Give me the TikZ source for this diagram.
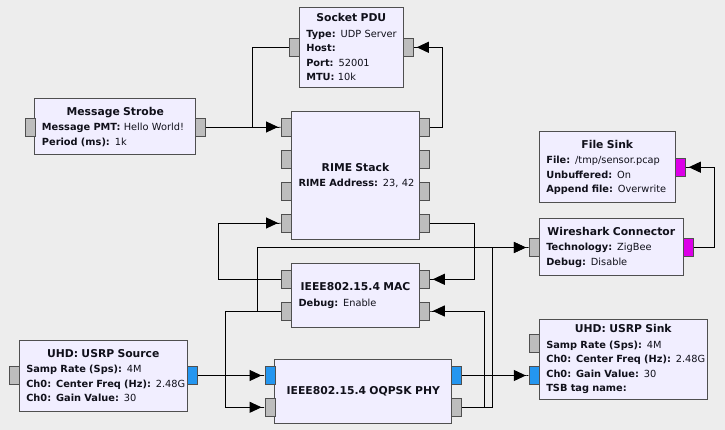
\documentclass[tikz,border=0pt]{standalone}
\usepackage{fontspec}
\setmainfont{DejaVu Sans}
\usetikzlibrary{arrows.meta}
\definecolor{canvas}{HTML}{EDEDED}
\definecolor{blockbg}{HTML}{F1EEFF}
\definecolor{edge}{HTML}{4F4F4F}
\definecolor{portgrey}{HTML}{BDBDBD}
\definecolor{cplxblue}{HTML}{2496F0}
\definecolor{bytemag}{HTML}{DC00E8}
\definecolor{ink}{HTML}{10101A}
\newcommand{\ttl}[1]{\makebox[\linewidth]{\fontsize{10.8}{14}\selectfont\bfseries #1}}
\newcommand{\prm}[2]{\mbox{\textbf{#1:} #2}}
\tikzset{
  blk/.style ={draw=edge, line width=1pt, fill=blockbg, align=left, inner xsep=7pt, inner ysep=0pt,
               font=\fontsize{9.8}{14.5}\selectfont, text=ink},
  port/.style={draw=edge, line width=.9pt, fill=portgrey, minimum width=10pt, minimum height=18pt, inner sep=0pt},
  cplx/.style={port, fill=cplxblue},
  bytes/.style={port, fill=bytemag},
  ln/.style  ={draw=black, line width=.9pt,
               -{Triangle[length=12pt,width=11pt,sep=0pt]Rectangle[length=3pt,width=.9pt,sep=0pt]}},
  lnn/.style ={draw=black, line width=.9pt},
}
\begin{document}
\begin{tikzpicture}[x=1pt,y=-1pt]
  \fill[canvas] (0,0) rectangle (725,430);
  \useasboundingbox (0,0) rectangle (725,430);

  % blocks
  \node[blk,minimum height=80pt,text width=90pt] (pdu) at (351.3,47.3)
    {\ttl{Socket PDU}\\[1pt] \prm{Type}{UDP Server}\\ \prm{Host}{}\\ \prm{Port}{52001}\\ \prm{MTU}{10k}};
  \node[blk,minimum height=56pt,text width=146.7pt] (strobe) at (115.3,127)
    {\ttl{Message Strobe}\\[1pt] \prm{Message PMT}{Hello World!}\\ \prm{Period (ms)}{1k}};
  \node[blk,minimum height=128pt,text width=114pt] (rime) at (355.5,175.5)
    {\ttl{RIME Stack}\\[1pt] \prm{RIME Address}{23, 42}};
  \node[blk,minimum height=71pt,text width=122pt] (fsink) at (607.3,167.2)
    {\ttl{File Sink}\\[1pt] \prm{File}{/tmp/sensor.pcap}\\ \prm{Unbuffered}{On}\\ \prm{Append file}{Overwrite}};
  \node[blk,minimum height=56pt,text width=130pt] (wshark) at (611.3,247)
    {\ttl{Wireshark Connector}\\[1pt] \prm{Technology}{ZigBee}\\ \prm{Debug}{Disable}};
  \node[blk,minimum height=64pt,text width=114pt] (mac) at (355.5,295.3)
    {\ttl{IEEE802.15.4 MAC}\\[1pt] \prm{Debug}{Enable}};
  \node[blk,minimum height=71pt,text width=154pt] (src) at (103.3,375.5)
    {\ttl{UHD: USRP Source}\\[1pt] \prm{Samp Rate (Sps)}{4M}\\ \prm{Ch0: Center Freq (Hz)}{2.48G}\\ \prm{Ch0: Gain Value}{30}};
  \node[blk,minimum height=64pt,text width=162.7pt] (phy) at (363.3,391.3)
    {\ttl{IEEE802.15.4 OQPSK PHY}};
  \node[blk,minimum height=80pt,text width=154pt] (sink) at (623.3,359.2)
    {\ttl{UHD: USRP Sink}\\[1pt] \prm{Samp Rate (Sps)}{4M}\\ \prm{Ch0: Center Freq (Hz)}{2.48G}\\ \prm{Ch0: Gain Value}{30}\\ \prm{TSB tag name}{}};

  % ports
  \node[port] (strobe-in) at (30.3,127) {};
  \node[port] (strobe-out) at (200.8,127) {};
  \node[port] (pdu-in) at (294.3,47.3) {};
  \node[port] (pdu-out) at (408.3,47.3) {};
  \foreach \y [count=\i] in {127,159.5,191,223} {
    \node[port] (rime-in\i) at (286.5,\y) {};
    \node[port] (rime-out\i) at (424.3,\y) {};
  }
  \node[bytes] (fsink-in) at (680.3,167.2) {};
  \node[port] (wshark-in) at (534.3,247.5) {};
  \node[bytes] (wshark-out) at (688.3,247.5) {};
  \foreach \y [count=\i] in {279.3,311} {
    \node[port] (mac-in\i) at (286.5,\y) {};
    \node[port] (mac-out\i) at (424.3,\y) {};
  }
  \node[port] (src-in) at (14.3,375.5) {};
  \node[cplx] (src-out) at (192.3,375.5) {};
  \node[cplx] (phy-in1) at (270,375.5) {};
  \node[port] (phy-in2) at (270,407.3) {};
  \node[cplx] (phy-out1) at (456.7,375.5) {};
  \node[port] (phy-out2) at (456.7,407.3) {};
  \node[port] (sink-in1) at (534.3,343.2) {};
  \node[cplx] (sink-in2) at (534.3,375.5) {};

  % connections
  \draw[ln] (strobe-out.east) -- (rime-in1.west);
  \draw[lnn] (strobe-out.east) -- ++(46.5,0) |- (pdu-in.west);
  \draw[ln] (rime-out1.east) -- ++(13,0) |- (pdu-out.east);
  \draw[ln] (rime-out4.east) -- ++(44.7,0) |- (mac-out1.east);
  \draw[ln] (mac-in1.west) -- ++(-62.2,0) |- (rime-in4.west);
  \draw[ln] (mac-in2.west) -- ++(-23.2,0) |- (wshark-in.west);
  \draw[ln] (mac-in2.west) -- ++(-56,0) |- (phy-in2.west);
  \draw[ln] (src-out.east) -- (phy-in1.west);
  \draw[ln] (phy-out1.east) -- (sink-in2.west);
  \draw[ln] (phy-out2.east) -- ++(22.6,0) |- (mac-out2.east);
  \draw[ln] (phy-out2.east) -- ++(30.6,0) |- (wshark-in.west);
  \draw[ln] (wshark-out.east) -- ++(20.7,0) |- (fsink-in.east);
\end{tikzpicture}
\end{document}
